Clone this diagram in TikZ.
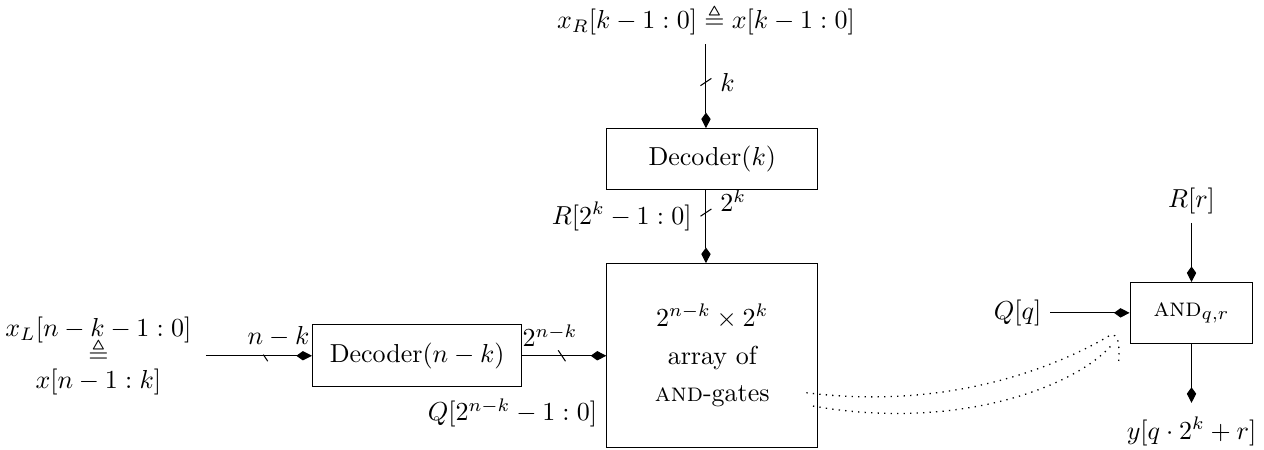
\documentclass[tikz,border=0pt]{standalone}
\usepackage{amsmath}
\usepackage{amssymb}
\usetikzlibrary{arrows.meta, positioning, calc, decorations.markings}
\tikzset{
    decbox/.style={
        draw=black,
        minimum width=2.85cm,
        minimum height=0.82cm,
        inner sep=0pt,
    },
    arraybox/.style={
        draw=black,
        minimum width=2.85cm,
        minimum height=2.49cm,
        align=center,
    },
    andbox/.style={
        draw=black,
        minimum width=1.66cm,
        minimum height=0.82cm,
    },
    wire/.style={
        -{Kite[length=6pt,width=3.6pt,inset=2.5pt]},
        line width=0.4pt,
    },
    busmark/.style={
        postaction={decorate, decoration={markings,
            mark=at position #1 with {\draw[-] (-1.4pt,2.1pt) -- (1.4pt,-2.1pt);}}},
    },
    zoomline/.style={
        dotted,
        line width=0.5pt,
    },
}

\begin{document}
\begin{tikzpicture}
\useasboundingbox (0,0) rectangle (17.09,6.08);

% ===== decoders and array =====
\node[decbox] (deck) at (9.63, 3.93) {Decoder$(k)$};
\node[arraybox] (array) at (9.63, 1.27) {$2^{n-k}\times 2^k$\\[2.5pt] array of\\[2.5pt] \textsc{and}-gates};
\node[decbox, minimum width=2.83cm, minimum height=0.84cm] (decnk) at (5.64, 1.27) {Decoder$(n-k)$};

% ===== inputs =====
\node (xr) at (9.545, 5.81) {$x_R[k-1:0] \triangleq x[k-1:0]$};
\node[align=center] (xl) at (1.33, 1.27) {$x_L[n-k-1:0]$\\[-2pt] $\triangleq$\\[-2pt] $x[n-1:k]$};

% ===== buses =====
\draw[wire, busmark=.45] (xr.south) -- (xr.south |- deck.north)
    node[pos=.45, right=2pt] {$k$};
\draw[wire, busmark=.31] (xr.south |- deck.south) -- (xr.south |- array.north)
    node[pos=.15, right=2pt] {$2^k$}
    node[pos=.36, left=2pt] {$R[2^k-1:0]$};
\draw[wire, busmark=.57, shorten <=2pt] (xl) -- (decnk)
    node[pos=.7, above] {$n-k$};
\draw[wire, busmark=.47] (decnk) -- (array)
    node[pos=.33, above] {$2^{n-k}$};
\coordinate (qpos) at (array.west |- decnk.south);
\node[below left=0.03cm and 0cm of qpos] (qbus) {$Q[2^{n-k}-1:0]$};

% ===== single AND gate =====
\node[andbox] (andg) at (16.11, 1.85) {\textsc{and}$_{q,r}$};
\node[above=0.8cm of andg] (rr) {$R[r]$};
\node[left=1.07cm of andg] (qq) {$Q[q]$};
\node[below=0.87cm of andg] (yy) {$y[q\cdot 2^k+r]$};

\draw[wire] (rr) -- (andg);
\draw[wire] (qq) -- (andg);
\draw[wire, shorten >=2pt] (andg) -- (yy);

% ===== zoom lines =====
\coordinate (zs1) at ($(array.east)+(-0.16,-0.50)$);
\coordinate (zs2) at ($(array.east)+(-0.07,-0.68)$);
\coordinate (ze1) at ($(andg.south west)+(-0.27,0.11)$);
\coordinate (ze2) at ($(andg.south west)+(-0.22,0.01)$);
\coordinate (ze3) at ($(andg.south west)+(-0.15,-0.27)$);
\draw[zoomline] (zs1) .. controls +(2.08,-0.26) and +(-0.54,-0.32) .. (ze1)
    .. controls +(0.12,0.05) and +(0.02,0.25) .. (ze3);
\draw[zoomline] (zs2) .. controls +(1.99,-0.35) and +(-0.46,-0.57) .. (ze2);

\end{tikzpicture}
\end{document}
